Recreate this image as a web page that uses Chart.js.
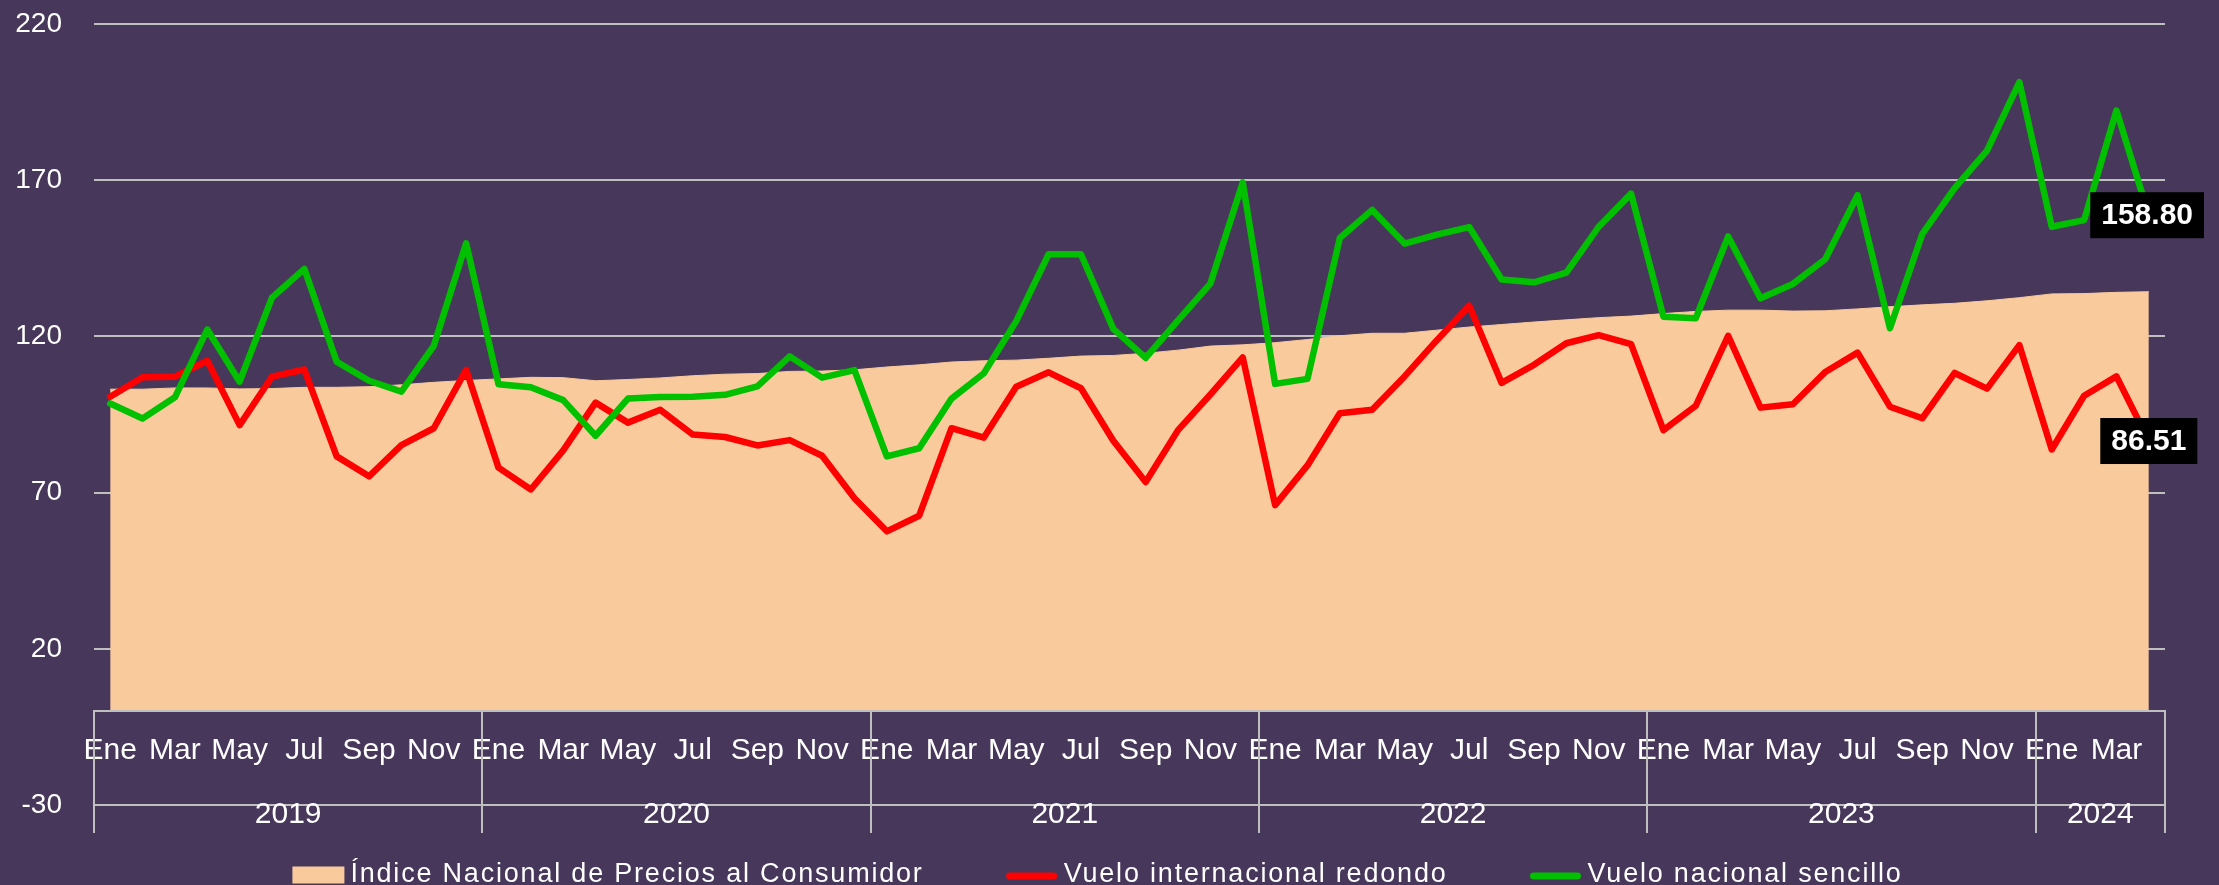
<!DOCTYPE html>
<html lang="es">
<head>
<meta charset="utf-8">
<title>Vuelos vs INPC</title>
<script src="https://cdn.jsdelivr.net/npm/chart.js@4.4.1/dist/chart.umd.min.js"></script>
<style>
    html, body { margin: 0; padding: 0; background: #47375b; }
    .chart-box { position: relative; width: 2219px; height: 885px; }
</style>
</head>
<body>
<div class="chart-box"><canvas id="preciosChart"></canvas></div>
<script>
// Month and year labels for the two-level category axis
const months = ['Ene', 'Feb', 'Mar', 'Abr', 'May', 'Jun', 'Jul', 'Ago', 'Sep', 'Oct', 'Nov', 'Dic'];
const years = ['2019', '2020', '2021', '2022', '2023', '2024'];
const monthsPerYear = [12, 12, 12, 12, 12, 4];
const yTicks = [-30, 20, 70, 120, 170, 220];

// Índice Nacional de Precios al Consumidor
const inpc = [
    103.1, 103.1, 103.5, 103.5, 103.2, 103.3, 103.7, 103.7, 103.9, 104.5, 105.3, 105.9,
    106.4, 106.9, 106.8, 105.8, 106.2, 106.7, 107.4, 107.9, 108.1, 108.8, 108.9, 109.3,
    110.2, 110.9, 111.8, 112.2, 112.4, 113.0, 113.7, 113.9, 114.6, 115.6, 116.9, 117.3,
    118.0, 119.0, 120.2, 121.0, 121.0, 122.0, 123.0, 123.8, 124.6, 125.3, 126.0, 126.5,
    127.3, 128.0, 128.4, 128.4, 128.1, 128.2, 128.8, 129.5, 130.1, 130.6, 131.4, 132.4,
    133.6, 133.7, 134.1, 134.3
];

// Vuelo internacional redondo
const vueloInternacional = [
    100.7, 106.9, 107.1, 112.2, 91.6, 107.1, 109.4, 81.6, 75.2, 85.2, 90.6, 109.3,
    78.0, 71.0, 83.5, 98.8, 92.4, 96.5, 88.6, 87.8, 85.1, 86.8, 81.8, 68.2,
    57.6, 62.6, 90.6, 87.6, 103.9, 108.5, 103.4, 86.6, 73.4, 90.0, 101.4, 113.3,
    66.0, 78.7, 95.4, 96.5, 107.2, 118.8, 129.8, 105.1, 110.9, 117.8, 120.4, 117.5,
    90.0, 97.8, 120.2, 97.2, 98.3, 108.6, 114.8, 97.5, 93.8, 108.3, 103.3, 117.2,
    83.8, 101.0, 107.2, 86.51
];

// Vuelo nacional sencillo
const vueloNacional = [
    98.5, 93.7, 100.5, 122.2, 105.5, 132.4, 141.6, 111.9, 105.8, 102.3, 117.0, 149.8,
    104.7, 103.7, 99.6, 88.2, 100.1, 100.6, 100.7, 101.3, 104.0, 113.6, 106.8, 109.2,
    81.6, 84.2, 100.1, 108.2, 124.9, 146.3, 146.3, 122.4, 113.1, 125.1, 136.9, 169.3,
    104.8, 106.4, 151.5, 160.5, 149.7, 152.6, 155.0, 138.2, 137.3, 140.4, 155.1, 165.7,
    126.3, 125.8, 152.0, 132.2, 136.8, 144.7, 165.2, 122.6, 152.8, 167.5, 179.5, 201.4,
    155.1, 157.2, 192.3, 158.80
];

const textColor = '#ffffff';
const gridColor = '#bfbfbf';
const fontFamily = '"Liberation Sans", Arial, sans-serif';

// one label per month: Ene 2019 ... Abr 2024
const labels = [];
monthsPerYear.forEach(function(n) {
    for (let m = 0; m < n; m++) {
        labels.push(months[m]);
    }
});

// Year row, separators, legend and the black end-of-line value boxes
const excelExtras = {
    id: 'excelExtras',
    afterDraw(chart) {
        const ctx = chart.ctx;
        const xScale = chart.scales.x;
        const yScale = chart.scales.y;
        const area = chart.chartArea;
        const axisY = yScale.getPixelForValue(0);
        const sepBottom = area.bottom + 28;

        ctx.save();
        ctx.strokeStyle = gridColor;
        ctx.lineWidth = 2;
        ctx.fillStyle = textColor;
        ctx.font = '30px ' + fontFamily;
        ctx.textAlign = 'center';
        ctx.textBaseline = 'middle';

        let start = 0;
        years.forEach(function(year, k) {
            const n = monthsPerYear[k];
            const x0 = Math.round(xScale.getPixelForValue(start - 0.5));
            ctx.beginPath();
            ctx.moveTo(x0, axisY);
            ctx.lineTo(x0, sepBottom);
            ctx.stroke();
            ctx.fillText(year, xScale.getPixelForValue(start + (n - 1) / 2), area.bottom + 10);
            start += n;
        });
        const xEnd = Math.round(xScale.getPixelForValue(start - 0.5));
        ctx.beginPath();
        ctx.moveTo(xEnd, axisY);
        ctx.lineTo(xEnd, sepBottom);
        ctx.stroke();

        // Legend
        ctx.font = '27px ' + fontFamily;
        ctx.letterSpacing = '1.8px';
        ctx.textAlign = 'left';
        const symbolW = 52, symbolGap = 6, itemGap = 82;
        const items = chart.data.datasets.map(function(ds) {
            return { ds: ds, width: ctx.measureText(ds.label).width };
        });
        const total = items.reduce(function(s, it) { return s + symbolW + symbolGap + it.width; }, 0) + itemGap * (items.length - 1);
        let lx = chart.width / 2 - 12 - total / 2;
        const ly = 875;
        items.forEach(function(it) {
            if (it.ds.fill) {
                ctx.fillStyle = it.ds.backgroundColor;
                ctx.fillRect(lx, ly - 8.5, symbolW, 17);
            } else {
                ctx.strokeStyle = it.ds.borderColor;
                ctx.lineWidth = 7;
                ctx.lineCap = 'round';
                ctx.beginPath();
                ctx.moveTo(lx + 4, ly + 1);
                ctx.lineTo(lx + symbolW - 4, ly + 1);
                ctx.stroke();
            }
            ctx.fillStyle = textColor;
            ctx.fillText(it.ds.label, lx + symbolW + symbolGap, ly);
            lx += symbolW + symbolGap + it.width + itemGap;
        });
        ctx.letterSpacing = '0px';

        // Last value labels
        ctx.font = 'bold 30px ' + fontFamily;
        ctx.textAlign = 'center';
        chart.data.datasets.forEach(function(ds, i) {
            if (!ds.endLabel) return;
            const meta = chart.getDatasetMeta(i);
            const pt = meta.data[meta.data.length - 1];
            const txt = ds.data[ds.data.length - 1].toFixed(2);
            const w = ctx.measureText(txt).width + 22;
            const h = 46;
            const bx = Math.min(pt.x - w / 2, chart.width - 15 - w);
            ctx.fillStyle = '#000000';
            ctx.fillRect(bx, pt.y - h / 2, w, h);
            ctx.fillStyle = '#ffffff';
            ctx.fillText(txt, bx + w / 2, pt.y + 1);
        });
        ctx.restore();
    }
};

Chart.defaults.font.family = fontFamily;
Chart.defaults.color = textColor;

const chartCtx = document.getElementById('preciosChart');
chartCtx.chart = new Chart(chartCtx.getContext('2d'), {
    type: 'line',
    data: {
        labels: labels,
        datasets: [
            {
                label: 'Índice Nacional de Precios al Consumidor',
                data: inpc,
                fill: 'origin',
                backgroundColor: '#f9cb9c',
                borderColor: '#f9cb9c',
                borderWidth: 1,
                pointRadius: 0,
                order: 3
            },
            {
                label: 'Vuelo internacional redondo',
                data: vueloInternacional,
                fill: false,
                borderColor: '#ff0000',
                borderWidth: 6.5,
                borderJoinStyle: 'round',
                borderCapStyle: 'round',
                pointRadius: 0,
                order: 2,
                endLabel: true
            },
            {
                label: 'Vuelo nacional sencillo',
                data: vueloNacional,
                fill: false,
                borderColor: '#00c000',
                borderWidth: 6.5,
                borderJoinStyle: 'round',
                borderCapStyle: 'round',
                pointRadius: 0,
                order: 1,
                endLabel: true
            }
        ]
    },
    options: {
        responsive: true,
        maintainAspectRatio: false,
        animation: false,
        layout: {
            padding: { left: 0, right: 54, top: 24, bottom: 80 }
        },
        plugins: {
            legend: { display: false },
            tooltip: { enabled: false }
        },
        scales: {
            x: {
                type: 'category',
                position: { y: 0 },
                offset: true,
                grid: { display: false, drawTicks: false },
                border: { display: true, color: gridColor, width: 2, z: 1 },
                ticks: {
                    autoSkip: false,
                    maxRotation: 0,
                    minRotation: 0,
                    padding: 21,
                    color: textColor,
                    font: { size: 30 },
                    callback: function(value, index) {
                        return index % 2 === 0 ? this.getLabelForValue(value) : '';
                    }
                }
            },
            y: {
                min: -30,
                max: 220,
                afterBuildTicks: function(axis) {
                    axis.ticks = yTicks.map(function(v) { return { value: v }; });
                },
                afterFit: function(axis) {
                    axis.width = 94;
                    // tick padding should not push the plot area down
                    axis.paddingTop = 0;
                    axis.paddingBottom = 0;
                },
                grid: { color: gridColor, lineWidth: 2, drawTicks: false },
                border: { display: false },
                ticks: {
                    color: textColor,
                    padding: 32,
                    font: { size: 28 }
                }
            }
        }
    },
    plugins: [excelExtras]
});
</script>
</body>
</html>
